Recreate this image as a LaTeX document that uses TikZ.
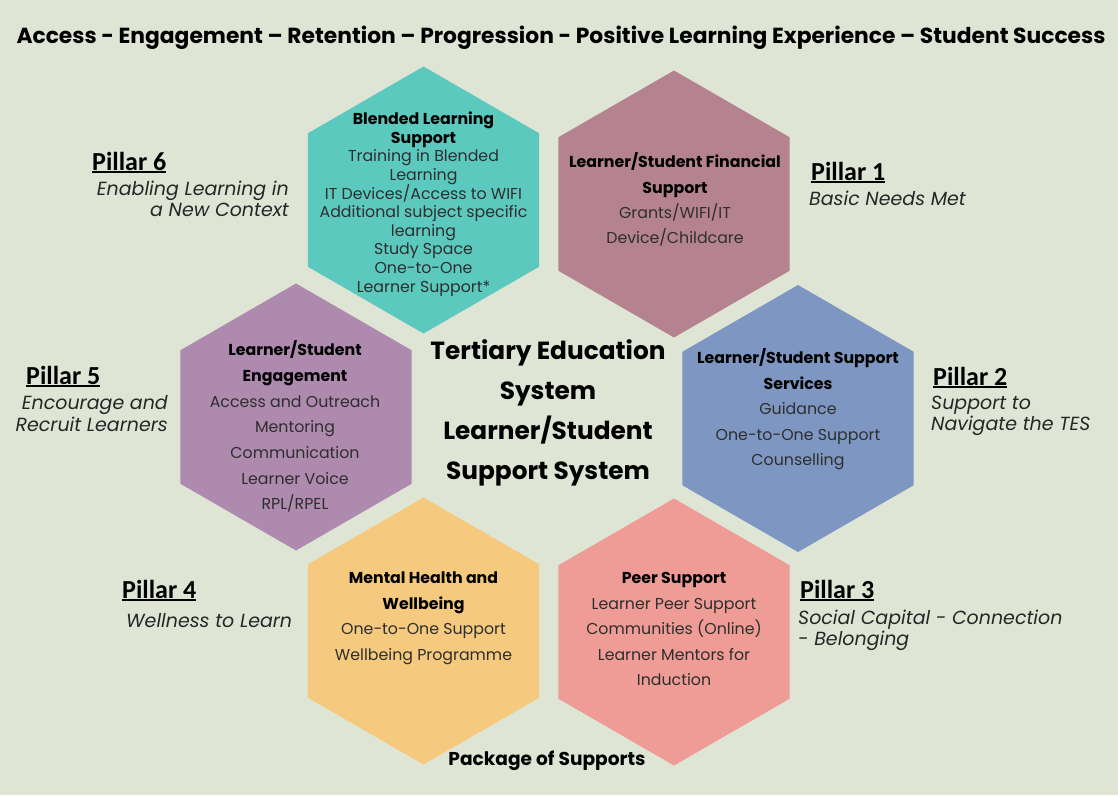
\documentclass[tikz,border=0pt]{standalone}
\usepackage{fontspec}
\setmainfont{Poppins}
\newfontfamily\pilfont{Carlito}
\usetikzlibrary{shapes.geometric}
\definecolor{bg}{HTML}{DFE5D5}
\definecolor{cteal}{HTML}{5CC9BF}
\definecolor{cmauve}{HTML}{B4838F}
\definecolor{cpurple}{HTML}{AE8AAF}
\definecolor{cblue}{HTML}{7E96C2}
\definecolor{cyellow}{HTML}{F5CA7E}
\definecolor{csalmon}{HTML}{EE9C95}
\definecolor{bodytxt}{HTML}{2E2E2E}
\newcommand\pul[1]{\sbox0{#1}\rlap{\rule[-3pt]{\wd0}{2pt}}\usebox0}
\tikzset{
  hex/.style={regular polygon, regular polygon sides=6, shape border rotate=30,
    minimum size=267pt, inner sep=0pt, outer sep=0pt, draw=none},
  hhead/.style={anchor=mid, inner sep=0pt, font=\fontsize{15.8}{18}\selectfont\bfseries, text=black},
  hbody/.style={anchor=mid, inner sep=0pt, font=\fontsize{15.8}{18}\selectfont, text=bodytxt},
  pillar/.style={anchor=base west, inner sep=0pt, font=\fontsize{26}{30}\pilfont\bfseries, text=black},
  psub/.style={inner sep=0pt, font=\fontsize{19}{22}\selectfont\itshape, text=black!85},
  ctitle/.style={anchor=mid, inner sep=0pt, font=\fontsize{24.8}{28}\selectfont\bfseries, text=black},
}
\begin{document}
\begin{tikzpicture}[x=1pt,y=-1pt]
\fill[bg] (0,0) rectangle (1118,795);
\path[use as bounding box] (0,0) rectangle (1118,795);

% title
\node[anchor=mid, inner sep=0pt, font=\fontsize{21.8}{24}\selectfont\bfseries] (title) at (561,41)
  {Access - Engagement – Retention – Progression - Positive Learning Experience – Student Success};

% hexagons
\node[hex, fill=cteal]   (h6) at (423.5,200) {};
\node[hex, fill=cmauve]  (h1) at (674,204) {};
\node[hex, fill=cpurple] (h5) at (296,417) {};
\node[hex, fill=cblue]   (h2) at (798,418.5) {};
\node[hex, fill=cyellow] (h4) at (423.5,631) {};
\node[hex, fill=csalmon] (h3) at (674,632) {};

% teal: blended learning
\foreach \t [count=\i from 0] in {Blended Learning, Support}
  \node[hhead] (h6h\i) at (423.5,122+18.6*\i) {\t};
\foreach \t [count=\i from 2] in {Training in Blended, Learning, IT Devices/Access to WIFI,
    Additional subject specific, learning, Study Space, One-to-One, Learner Support*}
  \node[hbody] (h6b\i) at (423.5,122+18.6*\i) {\t};

% mauve: financial
\foreach \t [count=\i from 0] in {Learner/Student Financial, Support}
  \node[hhead] (h1h\i) at (675,165+25.4*\i) {\t};
\foreach \t [count=\i from 2] in {Grants/WIFI/IT, Device/Childcare}
  \node[hbody] (h1b\i) at (675,165+25.4*\i) {\t};

% purple: engagement
\foreach \t [count=\i from 0] in {Learner/Student, Engagement}
  \node[hhead] (h5h\i) at (295,353+25.7*\i) {\t};
\foreach \t [count=\i from 2] in {Access and Outreach, Mentoring, Communication, Learner Voice, RPL/RPEL}
  \node[hbody] (h5b\i) at (295,353+25.7*\i) {\t};

% blue: support services
\foreach \t [count=\i from 0] in {Learner/Student Support, Services}
  \node[hhead] (h2h\i) at (798,361+25.5*\i) {\t};
\foreach \t [count=\i from 2] in {Guidance, One-to-One Support, Counselling}
  \node[hbody] (h2b\i) at (798,361+25.5*\i) {\t};

% yellow: mental health
\foreach \t [count=\i from 0] in {Mental Health and, Wellbeing}
  \node[hhead] (h4h\i) at (423.5,581+25.5*\i) {\t};
\foreach \t [count=\i from 2] in {One-to-One Support, Wellbeing Programme}
  \node[hbody] (h4b\i) at (423.5,581+25.5*\i) {\t};

% salmon: peer support
\node[hhead] (h3h0) at (674,581) {Peer Support};
\foreach \t [count=\i from 1] in {Learner Peer Support, Communities (Online), Learner Mentors for, Induction}
  \node[hbody] (h3b\i) at (674,581+25.5*\i) {\t};

% centre
\foreach \t [count=\i from 0] in {Tertiary Education, System, Learner/Student, Support System}
  \node[ctitle] (c\i) at (548,356.5+40*\i) {\t};

\node[anchor=mid, inner sep=0pt, font=\fontsize{18.6}{21}\selectfont\bfseries] (pkg) at (547,763) {Package of Supports};

% pillars
\node[pillar] (p6) at (92,170) {\pul{Pillar 6}};
\node[psub, anchor=base east] (p6a) at (289,195) {Enabling Learning in};
\node[psub, anchor=base east] (p6b) at (289,216.7) {a New Context};

\node[pillar] (p5) at (26,384) {\pul{Pillar 5}};
\node[psub, anchor=base east] (p5a) at (168,409) {Encourage and};
\node[psub, anchor=base east] (p5b) at (168,431) {Recruit Learners};

\node[pillar] (p1) at (811,180) {\pul{Pillar 1}};
\node[psub, anchor=base west] (p1a) at (809,205.7) {Basic Needs Met};

\node[pillar] (p2) at (933,385) {\pul{Pillar 2}};
\node[psub, anchor=base west] (p2a) at (931,409) {Support to};
\node[psub, anchor=base west] (p2b) at (931,430) {Navigate the TES};

\node[pillar] (p4) at (122,598) {\pul{Pillar 4}};
\node[psub, anchor=base west] (p4a) at (126,627) {Wellness to Learn};

\node[pillar] (p3) at (800,598) {\pul{Pillar 3}};
\node[psub, anchor=base west] (p3a) at (798,624) {Social Capital - Connection};
\node[psub, anchor=base west] (p3b) at (798,645) {- Belonging};
\end{tikzpicture}
\end{document}
